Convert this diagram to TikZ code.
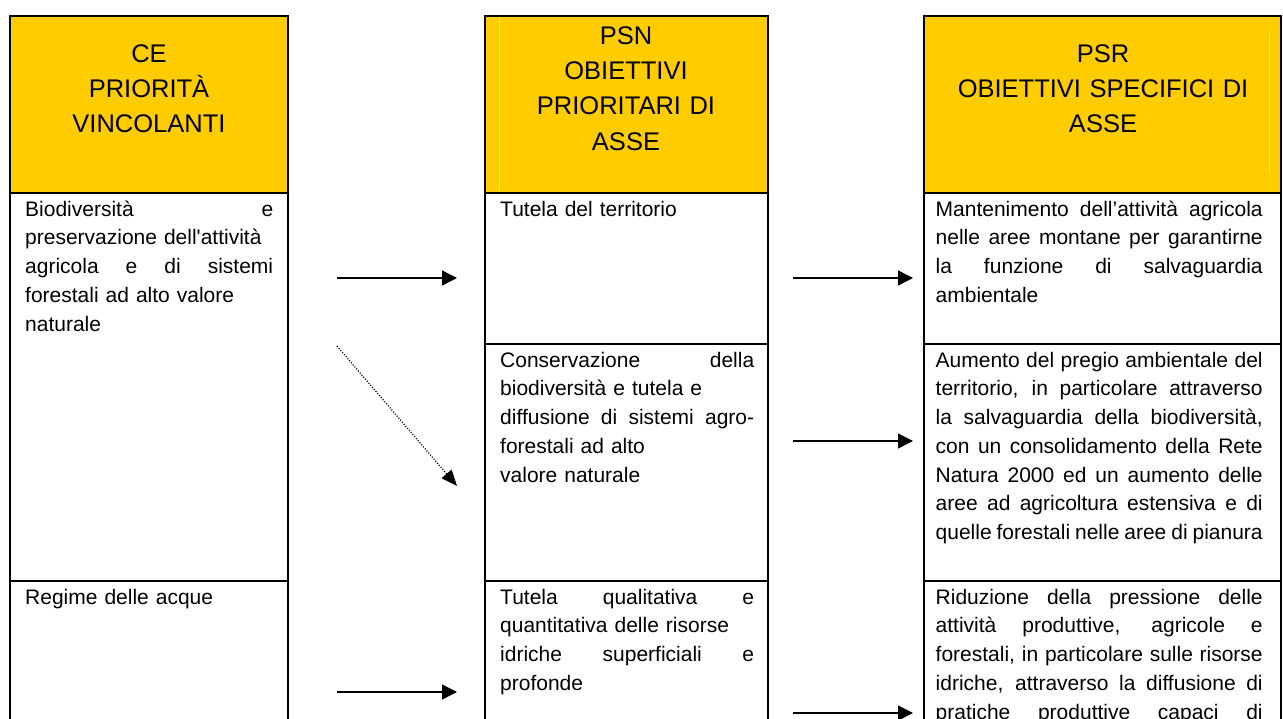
\documentclass[tikz,border=0pt]{standalone}
\usepackage{fontspec}
\newfontfamily\bodyfont{Liberation Sans}
\usetikzlibrary{arrows.meta}
\definecolor{hdr}{HTML}{FFCC00}
\newcommand\jl[2]{\leavevmode\hbox to #1pt{\spaceskip=0.278em plus 1fil minus 0.05em\relax #2}}
\tikzset{
  cell/.style={draw=black, line width=1.9pt, anchor=north west, inner sep=0pt, outer sep=0pt},
  hcell/.style={cell, fill=hdr},
  htxt/.style={anchor=north, inner sep=0pt, align=center, text width=300pt,
    font=\bodyfont\fontsize{25.5}{35.3}\selectfont},
  btxt/.style={anchor=north west, inner sep=0pt, align=left, text width=#1pt,
    font=\bodyfont\fontsize{21}{28.7}\selectfont},
  arr/.style={line width=1.4pt, -{Triangle[length=15pt,width=15pt]}},
  darr/.style={line width=1.2pt, dash pattern=on 1.1pt off 1.6pt, -{Triangle[length=16pt,width=13pt]}},
  faint/.style={draw=hdr!45!white, line width=0.8pt}
}
\begin{document}
\begin{tikzpicture}[x=1pt,y=-1pt]
\useasboundingbox (0,0) rectangle (1283,719);
\clip (0,0) rectangle (1283,719);
% column 1
\node[hcell, minimum width=278pt, minimum height=177pt] (h1) at (10,16) {};
\node[cell, minimum width=278pt, minimum height=388pt] (c1a) at (10,193) {};
\node[cell, minimum width=278pt, minimum height=200pt] (c1b) at (10,581) {};
% column 2
\node[hcell, minimum width=283pt, minimum height=177pt] (h2) at (485,16) {};
\node[cell, minimum width=283pt, minimum height=151pt] (c2a) at (485,193) {};
\node[cell, minimum width=283pt, minimum height=237pt] (c2b) at (485,344) {};
\node[cell, minimum width=283pt, minimum height=200pt] (c2c) at (485,581) {};
% column 3
\node[hcell, minimum width=357pt, minimum height=177pt] (h3) at (924,16) {};
\node[cell, minimum width=357pt, minimum height=151pt] (c3a) at (924,193) {};
\node[cell, minimum width=357pt, minimum height=237pt] (c3b) at (924,344) {};
\node[cell, minimum width=357pt, minimum height=200pt] (c3c) at (924,581) {};
% faint lines in headers
\draw[faint] (499,17.5) -- (499,191.5);
\draw[faint] (1269,33) -- (1269,174);
% header texts
\node[htxt] (t1) at (149,37.3) {\strut CE\\PRIORITÀ\\VINCOLANTI};
\node[htxt] (t2) at (626,19.3) {\strut PSN\\OBIETTIVI\\PRIORITARI DI\\ASSE};
\node[htxt] (t3) at (1103,37.3) {\strut PSR\\OBIETTIVI SPECIFICI DI\\ASSE};
% body texts
\node[btxt=248] (x1a) at (25,196) {\strut\jl{248}{Biodiversità e}\\preservazione dell'attività\\\jl{248}{agricola e di sistemi}\\forestali ad alto valore\\naturale};
\node[btxt=248] (x1b) at (25,584) {\strut Regime delle acque};
\node[btxt=254] (x2a) at (500,196) {\strut Tutela del territorio};
\node[btxt=254] (x2b) at (500,347) {\strut\jl{254}{Conservazione della}\\biodiversità e tutela e\\\jl{254}{diffusione di sistemi agro-}\\forestali ad alto\\valore naturale};
\node[btxt=254] (x2c) at (500,584) {\strut\jl{254}{Tutela qualitativa e}\\quantitativa delle risorse\\\jl{254}{idriche superficiali e}\\profonde};
\node[btxt=327] (x3a) at (935.5,196) {\strut\jl{327}{Mantenimento dell’attività agricola}\\\jl{327}{nelle aree montane per garantirne}\\\jl{327}{la funzione di salvaguardia}\\ambientale};
\node[btxt=327] (x3b) at (935.5,347) {\strut\jl{327}{Aumento del pregio ambientale del}\\\jl{327}{territorio, in particolare attraverso}\\\jl{327}{la salvaguardia della biodiversità,}\\\jl{327}{con un consolidamento della Rete}\\\jl{327}{Natura 2000 ed un aumento delle}\\\jl{327}{aree ad agricoltura estensiva e di}\\\jl{327}{quelle forestali nelle aree di pianura}};
\node[btxt=327] (x3c) at (935.5,584) {\strut\jl{327}{Riduzione della pressione delle}\\\jl{327}{attività produttive, agricole e}\\\jl{327}{forestali, in particolare sulle risorse}\\\jl{327}{idriche, attraverso la diffusione di}\\\jl{327}{pratiche produttive capaci di}};
% arrow end points
\coordinate (a1s) at (337,278); \coordinate (a1e) at (457,278);
\coordinate (a2s) at (793,278); \coordinate (a2e) at (913,278);
\coordinate (a3s) at (793,441); \coordinate (a3e) at (913,441);
\coordinate (dss) at (337,346); \coordinate (dse) at (457,486);
\coordinate (a4s) at (337,692); \coordinate (a4e) at (457,692);
\coordinate (a5s) at (793,713); \coordinate (a5e) at (913,713);
\draw[arr] (a1s) -- (a1e);
\draw[arr] (a2s) -- (a2e);
\draw[arr] (a3s) -- (a3e);
\draw[darr] (dss) -- (dse);
\draw[arr] (a4s) -- (a4e);
\draw[arr] (a5s) -- (a5e);
\end{tikzpicture}
\end{document}
